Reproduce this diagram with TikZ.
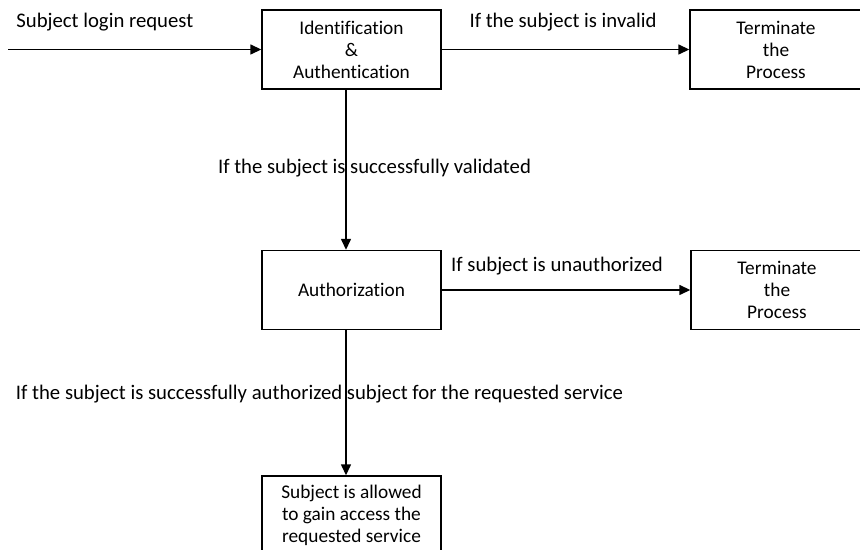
\documentclass[tikz,border=0pt]{standalone}
\usepackage{fontspec}
\setmainfont[Ligatures=NoCommon]{Carlito}
\usepackage{tikz}
\usetikzlibrary{positioning,arrows.meta,calc}
\tikzset{
  flow/.style={-{Triangle[length=2.2mm,width=2mm]},line width=0.8pt},
  stepbox/.style={draw,line width=0.8pt,minimum width=3.58cm,minimum height=1.58cm,
    align=center,inner sep=2pt,font=\fontsize{11}{12.5}\selectfont},
  endbox/.style={stepbox,minimum width=3.44cm},
  lbl/.style={inner sep=0pt,font=\fontsize{11.8}{13}\selectfont},
}
\begin{document}
\begin{tikzpicture}[x=0.02cm,y=-0.02cm]
  \useasboundingbox (0,0) rectangle (860,550);
  \clip (0,0) rectangle (860,550);
  % boxes
  \node[stepbox] (idauth) at (351.5,49.5) {Identification\\\&\\Authentication};
  \node[endbox] (term1) at (776,49.5) {Terminate\\the\\Process};
  \node[stepbox] (authz) at (351.5,290) {Authorization};
  \node[endbox] (term2) at (777,290) {Terminate\\the\\Process};
  \node[stepbox] (access) at (351.5,515.5) {Subject is allowed\\to gain access the\\requested service};
  \coordinate (login) at (8,49.5);
  % connectors
  \draw[flow] (login) -- (idauth);
  \draw[flow] (idauth) -- (term1);
  \draw[flow] ([xshift=-0.11cm]idauth.south) -- ([xshift=-0.11cm]authz.north);
  \draw[flow] (authz) -- (term2);
  \draw[flow] ([xshift=-0.11cm]authz.south) -- ([xshift=-0.11cm]access.north);
  % labels
  \node[lbl,anchor=west] (lgin) at (16,22) {Subject login\ request};
  \node[lbl] (inval) at (563,22) {If the subject is invalid};
  \node[lbl] (valid) at (374.5,168) {If the subject is\ successfully\ validated};
  \node[lbl] (unauth) at (557,266) {If subject is unauthorized};
  \node[lbl] (authd) at (319.5,394) {If the subject is successfully authorized\ subject for the requested service};
\end{tikzpicture}
\end{document}
